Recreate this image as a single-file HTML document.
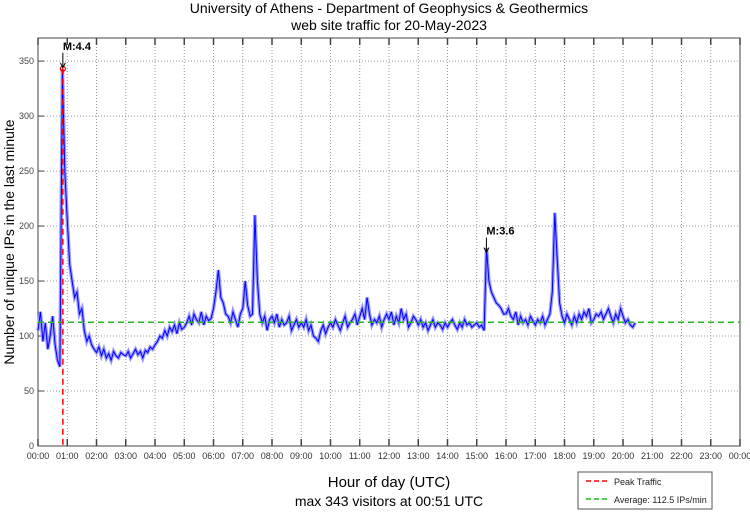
<!DOCTYPE html>
<html><head><meta charset="utf-8"><style>
body{margin:0;background:#fff;font-family:"Liberation Sans",sans-serif}
svg text{font-family:"Liberation Sans",sans-serif}
</style></head><body>
<svg id="c" width="750" height="511">
<text x="389" y="13" text-anchor="middle" font-size="14">University of Athens - Department of Geophysics &amp; Geothermics</text>
<text x="389" y="30" text-anchor="middle" font-size="14">web site traffic for 20-May-2023</text>
<g id="grid"></g><g id="series"></g><g id="ann"></g>
<text transform="translate(14,242) rotate(-90)" text-anchor="middle" font-size="14">Number of unique IPs in the last minute</text>
<text x="389" y="487" text-anchor="middle" font-size="15">Hour of day (UTC)</text>
<text x="389" y="506" text-anchor="middle" font-size="14">max 343 visitors at 00:51 UTC</text>
<g>
<rect x="578" y="472" width="134" height="37" fill="#fff" stroke="#555"/>
<line x1="586" y1="481" x2="610" y2="481" stroke="#f00" stroke-width="1.5" stroke-dasharray="5,3"/>
<text x="614" y="485" font-size="9" fill="#222">Peak Traffic</text>
<line x1="586" y1="499" x2="610" y2="499" stroke="#2b2" stroke-width="1.5" stroke-dasharray="5,3"/>
<text x="614" y="503" font-size="9" fill="#222">Average: 112.5 IPs/min</text>
</g>
</svg>
<script>
const yTicks=[0,50,100,150,200,250,300,350];
const xHours=[0,1,2,3,4,5,6,7,8,9,10,11,12,13,14,15,16,17,18,19,20,21,22,23,24];
const stepMinutes=5;
const traffic=[
105,122,95,112,88,100,118,92,78,72,343,250,
205,165,150,135,140,120,125,105,95,100,92,88,
85,90,82,88,80,84,78,86,82,80,85,83,
82,86,80,84,88,83,86,80,87,85,90,88,
92,95,100,98,105,100,108,104,110,102,112,106,
108,112,118,110,120,115,112,122,110,118,114,116,
125,140,160,135,130,120,118,112,122,115,108,120,
125,150,128,118,120,210,150,120,112,118,105,115,
118,112,120,108,115,110,112,118,105,110,115,108,
112,108,115,105,110,100,98,95,105,110,102,108,
112,108,115,110,105,112,118,108,112,115,120,110,
118,125,115,135,120,110,115,112,118,108,115,120,
115,122,110,118,112,125,115,120,108,112,118,115,
110,115,108,112,105,110,115,108,112,110,106,112,
108,112,115,110,106,112,108,115,110,112,108,110,
112,108,110,105,180,150,140,135,130,128,125,120,
120,125,118,115,122,110,118,112,115,110,118,114,
110,115,112,118,110,115,120,140,212,170,130,118,
112,120,115,110,118,112,120,115,122,118,125,112,
115,120,118,122,115,120,125,118,112,120,115,125,
118,112,115,110,108,112];
const average=[112.5];
const peak=[0.85,343];
const markers=[{label:"M:4.4",h:0.85,v:343},{label:"M:3.6",h:15.33,v:175}];
const L=38,R=740,T=38,B=446,YMAX=371;
const X=h=>L+(R-L)*h/24, Y=v=>B-(B-T)*v/YMAX;
const NS="http://www.w3.org/2000/svg";
function mk(t,a,p){const e=document.createElementNS(NS,t);for(const k in a)e.setAttribute(k,a[k]);p.appendChild(e);return e;}
const g=document.getElementById('grid');
for(const v of yTicks){
 if(v>0){const l=mk('line',{x1:L,x2:R,y1:Y(v),y2:Y(v),stroke:'#999','stroke-dasharray':'1,2'},g);
 
 }
 mk('line',{x1:L,x2:L+6,y1:Y(v),y2:Y(v),stroke:'#444'},g);
 const t=mk('text',{x:L-4,y:Y(v)+3,'text-anchor':'end','font-size':9,fill:'#444'},g);t.textContent=v;
 
 
}
for(const h of xHours){
 if(h>0&&h<24){const l=mk('line',{x1:X(h),x2:X(h),y1:T,y2:B,stroke:'#999','stroke-dasharray':'1,2'},g);
 
 }
 mk('line',{x1:X(h),x2:X(h),y1:B,y2:B-7,stroke:'#444','stroke-width':1.5},g);
 mk('line',{x1:X(h),x2:X(h),y1:T,y2:T+7,stroke:'#444','stroke-width':1.5},g);
 const t=mk('text',{x:X(h),y:B+13,'text-anchor':'middle','font-size':9,fill:'#333'},g);t.textContent=String(h%24).padStart(2,'0')+':00';
 
 
}
const box=mk('rect',{x:L,y:T,width:R-L,height:B-T,fill:'none',stroke:'#444'},g);


const s=document.getElementById('series');
const pts=traffic.map((v,i)=>X(i*stepMinutes/60).toFixed(1)+','+Y(v).toFixed(1)).join(' ');
const bg=mk('polyline',{points:pts,fill:'none',stroke:'#99f','stroke-width':3.5},s);


const ln=mk('polyline',{points:pts,fill:'none',stroke:'#00f','stroke-width':1},s);


const av=mk('line',{x1:L,x2:R,y1:Y(average[0]),y2:Y(average[0]),stroke:'#2b2','stroke-width':1.5,'stroke-dasharray':'6,4'},s);


const pk=mk('line',{x1:X(peak[0]),x2:X(peak[0]),y1:Y(peak[1]),y2:B,stroke:'#f00','stroke-width':1.5,'stroke-dasharray':'6,4'},s);


const pc=mk('circle',{cx:X(peak[0]),cy:Y(peak[1]),r:2.5,fill:'none',stroke:'#f00','stroke-width':1.2},s);


const a=document.getElementById('ann');
for(const m of markers){
 const x=X(m.h),y=Y(m.v);
 mk('line',{x1:x,x2:x,y1:y-16,y2:y-2,stroke:'#000'},a);
 mk('path',{d:`M${x-2.5},${y-6} L${x},${y-1} L${x+2.5},${y-6}`,fill:'none',stroke:'#000'},a);
 const t=mk('text',{x:x,y:y-19,'font-size':11,'font-weight':'bold'},a);t.textContent=m.label;
 
 
}
</script>
</body></html>
